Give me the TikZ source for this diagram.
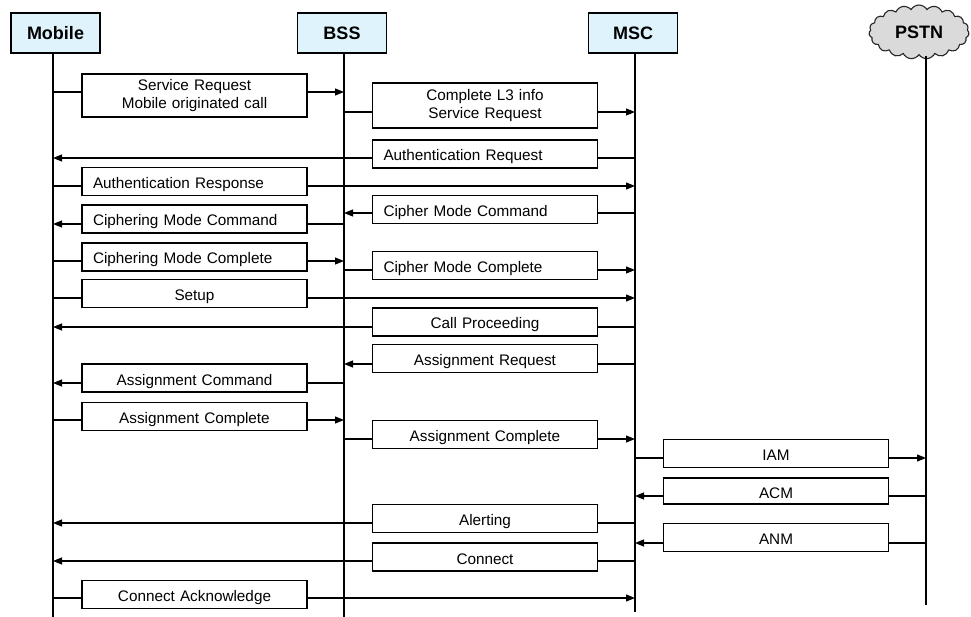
\documentclass[tikz,border=0pt]{standalone}
\usepackage{fontspec}
\setmainfont{Liberation Sans}
\usetikzlibrary{arrows.meta,shapes.symbols}
\definecolor{headblue}{RGB}{222,243,251}
\definecolor{cloudgray}{RGB}{218,218,218}
\begin{document}
\begin{tikzpicture}[x=1pt,y=-1pt,
  head/.style={draw, line width=1.3pt, fill=headblue, minimum width=89pt,
    minimum height=40pt, inner sep=0pt, font=\fontsize{18}{20}\selectfont\bfseries},
  life/.style={line width=1.3pt},
  sig/.style={line width=1.1pt, -{Triangle[length=9pt,width=7pt]}},
  msgbox/.style={draw, fill=white, line width=1.2pt, minimum height=28pt,
    text width=203pt, inner xsep=11pt, inner ysep=0pt, align=center,
    text height=14pt, text depth=0pt,
    font=\fontsize{15.3}{17.5}\selectfont},
  twoline/.style={text height={}, text depth={}},
  lbox/.style={msgbox, align=left},
]
\useasboundingbox (0,0) rectangle (971,617);
\fill[white] (0,0) rectangle (971,617);

% entities
\node[head] (mob) at (55.5,33) {Mobile};
\node[head] (bss) at (342,33) {BSS};
\node[head] (msc) at (633,33) {MSC};
\node[cloud, draw=black!85, fill=cloudgray, line width=1.1pt, cloud puffs=19,
  cloud puff arc=120, aspect=2.2, minimum width=100pt, minimum height=54pt,
  inner sep=0pt, font=\fontsize{18}{20}\selectfont\bfseries] (pstn) at (919,32) {PSTN};

% lifeline positions
\coordinate (mobX) at (53,0);
\coordinate (bssX) at (344,0);
\coordinate (mscX) at (635,0);
\coordinate (pstnX) at (926,0);
\coordinate (endA) at (0,617);
\coordinate (endB) at (0,612);
\coordinate (endC) at (0,605);

\draw[life] (mob.south -| mobX) -- (mobX |- endA);
\draw[life] (bss.south -| bssX) -- (bssX |- endA);
\draw[life] (msc.south -| mscX) -- (mscX |- endB);
\draw[life] (pstn.south -| pstnX) -- (pstnX |- endC);

% signal heights
\coordinate (s1) at (0,92);
\coordinate (s2) at (0,112);
\coordinate (s3) at (0,158);
\coordinate (s4) at (0,186);
\coordinate (s5) at (0,213);
\coordinate (s6) at (0,224);
\coordinate (s7) at (0,261);
\coordinate (s8) at (0,270);
\coordinate (s9) at (0,298);
\coordinate (s10) at (0,327);
\coordinate (s11) at (0,364);
\coordinate (s12) at (0,383);
\coordinate (s13) at (0,420);
\coordinate (s14) at (0,439);
\coordinate (s15) at (0,458);
\coordinate (s16) at (0,496);
\coordinate (s17) at (0,523);
\coordinate (s18) at (0,543);
\coordinate (s19) at (0,561);
\coordinate (s20) at (0,598);

% signals
\draw[sig] (mobX |- s1) -- (bssX |- s1);
\draw[sig] (bssX |- s2) -- (mscX |- s2);
\draw[sig] (mscX |- s3) -- (mobX |- s3);
\draw[sig] (mobX |- s4) -- (mscX |- s4);
\draw[sig] (mscX |- s5) -- (bssX |- s5);
\draw[sig] (bssX |- s6) -- (mobX |- s6);
\draw[sig] (mobX |- s7) -- (bssX |- s7);
\draw[sig] (bssX |- s8) -- (mscX |- s8);
\draw[sig] (mobX |- s9) -- (mscX |- s9);
\draw[sig] (mscX |- s10) -- (mobX |- s10);
\draw[sig] (mscX |- s11) -- (bssX |- s11);
\draw[sig] (bssX |- s12) -- (mobX |- s12);
\draw[sig] (mobX |- s13) -- (bssX |- s13);
\draw[sig] (bssX |- s14) -- (mscX |- s14);
\draw[sig] (mscX |- s15) -- (pstnX |- s15);
\draw[sig] (pstnX |- s16) -- (mscX |- s16);
\draw[sig] (mscX |- s17) -- (mobX |- s17);
\draw[sig] (pstnX |- s18) -- (mscX |- s18);
\draw[sig] (mscX |- s19) -- (mobX |- s19);
\draw[sig] (mobX |- s20) -- (mscX |- s20);

% message labels
\node[msgbox, twoline, minimum height=43pt] (m1) at (194.5,95.5) {Service Request\\Mobile originated call};
\node[msgbox, twoline, minimum height=45pt] (m2) at (485,105.5) {Complete L3 info\\Service Request};
\node[lbox] (m3) at (485,154) {Authentication Request};
\node[lbox] (m4) at (194.5,181.5) {Authentication Response};
\node[lbox] (m5) at (485,209.5) {Cipher Mode Command};
\node[lbox] (m6) at (194.5,219) {Ciphering Mode Command};
\node[lbox] (m7) at (194.5,257) {Ciphering Mode Complete};
\node[lbox] (m8) at (485,265.5) {Cipher Mode Complete};
\node[msgbox] (m9) at (194.5,293.5) {Setup};
\node[msgbox] (m10) at (485,322) {Call Proceeding};
\node[msgbox] (m11) at (485,358.5) {Assignment Request};
\node[msgbox] (m12) at (194.5,378) {Assignment Command};
\node[msgbox] (m13) at (194.5,416.5) {Assignment Complete};
\node[msgbox] (m14) at (485,434.5) {Assignment Complete};
\node[msgbox] (m15) at (776,453.5) {IAM};
\node[msgbox, minimum height=26pt] (m16) at (776,491) {ACM};
\node[msgbox] (m17) at (485,518.5) {Alerting};
\node[msgbox] (m18) at (776,537.5) {ANM};
\node[msgbox] (m19) at (485,557) {Connect};
\node[msgbox] (m20) at (194.5,594.5) {Connect Acknowledge};
\end{tikzpicture}
\end{document}
